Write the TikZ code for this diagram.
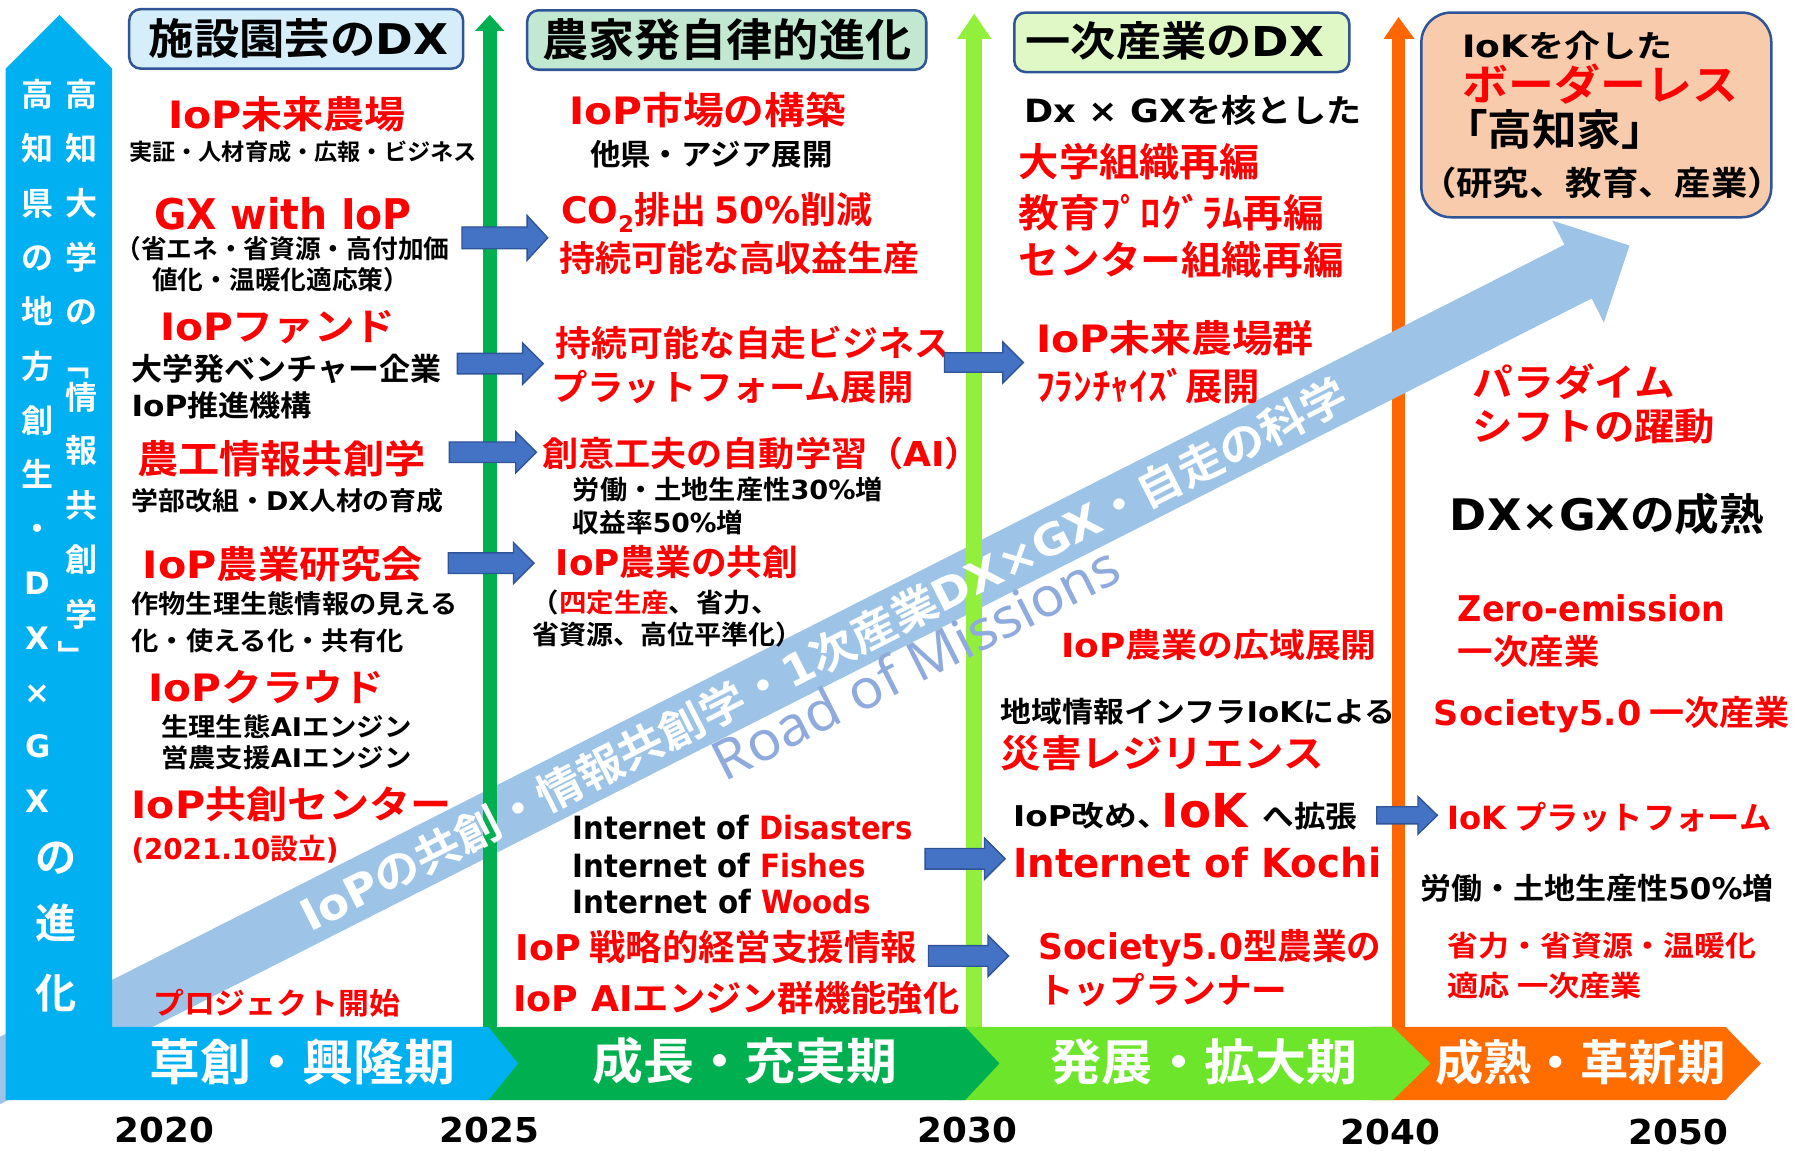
\documentclass[tikz,border=0pt]{standalone}
\usepackage{graphicx}
\usepackage{fontspec}
\setmainfont{Noto Sans CJK JP}[UprightFont={* Bold}]
\newfontfamily\latr{Noto Sans}
\newfontfamily\latb{DejaVu Sans}[UprightFont={* Bold}]
\definecolor{rd}{HTML}{FF0000}
\definecolor{pblue}{HTML}{00B0F0}
\definecolor{grn}{HTML}{00B050}
\definecolor{lgl}{HTML}{92F03C}
\definecolor{lgb}{HTML}{6CE52A}
\definecolor{orl}{HTML}{FF6600}
\definecolor{orb}{HTML}{FF6C00}
\definecolor{diag}{HTML}{9DC3E6}
\definecolor{rom}{HTML}{8FAADC}
\definecolor{barr}{HTML}{4472C4}
\definecolor{barrd}{HTML}{2F5597}
\definecolor{bxa}{HTML}{D6EDFA}
\definecolor{bxb}{HTML}{C3E8D2}
\definecolor{bxc}{HTML}{E0F8C6}
\definecolor{bxd}{HTML}{F8CBAD}
\definecolor{bxline}{HTML}{2F5597}
\newcommand\sw[3]{\resizebox{#1pt}{\height}{\fontsize{#2pt}{#2pt}\selectfont\rule[-0.12em]{0pt}{0.96em}#3}}
\newcommand\swp[3]{\resizebox{#1pt}{\height}{\fontsize{#2pt}{#2pt}\selectfont #3}}
\newcommand\nw[2]{\fontsize{#1pt}{#1pt}\selectfont\rule[-0.12em]{0pt}{0.96em}#2}
\newcommand\blkarr[6]{\filldraw[fill=barr, draw=barrd, line width=1.2pt, line join=miter] (#1,#3-#4) -- (#2-#6,#3-#4) -- (#2-#6,#3-#5) -- (#2,#3) -- (#2-#6,#3+#5) -- (#2-#6,#3+#4) -- (#1,#3+#4) -- cycle;}
\tikzset{
  tl/.style={anchor=west, inner sep=0pt, outer sep=0pt, text=black},
  tr/.style={tl, text=rd},
  tc/.style={anchor=center, inner sep=0pt, outer sep=0pt, text=black},
  wt/.style={tc, text=white},
  hbox/.style={draw=bxline, line width=2.2pt, rounded corners=10pt, inner sep=0pt, minimum height=52pt}
}
\begin{document}
\begin{tikzpicture}[x=1pt,y=-1pt]
\useasboundingbox (0,0) rectangle (1568,1006);
\fill[white] (0,0) rectangle (1568,1006);
% orange timeline arrow (under the road arrow)
\fill[orl] (1217,898) rectangle (1229,33);
\fill[orl] (1210,34) -- (1223,15) -- (1237,34) -- cycle;
% header boxes
\node[hbox, fill=bxa, minimum width=292pt] (h1) at (259,34) {};
\node[hbox, fill=bxb, minimum width=349pt] (h2) at (635.5,35) {};
\node[hbox, fill=bxc, minimum width=293pt] (h3) at (1033.5,37) {};
\node[draw=bxline, fill=bxd, line width=2.2pt, rounded corners=26pt, inner sep=0pt, minimum width=306pt, minimum height=179pt] (bb) at (1396,100.5) {};
\node[tc] (h1t) at (261,34) {\sw{262}{37}{施設園芸の{\latb DX}}};
\node[tc] (h2t) at (635.5,35) {\sw{323}{39}{農家発自律的進化}};
\node[tc] (h3t) at (1027.5,36) {\sw{261}{36}{一次産業の{\latb DX}}};
% diagonal road arrow
\fill[diag] (0,906.6) -- (1368.1,214.0) -- (1357.4,192.9) -- (1425,214.7) -- (1402.6,282.1) -- (1391.9,261.0) -- (0,965.6) -- cycle;
% green timeline arrows (over the road arrow)
\fill[grn] (422,898) rectangle (434.5,26);
\fill[grn] (415.5,27) -- (428.3,13) -- (441,27) -- cycle;
\fill[lgl] (845,898) rectangle (859,33);
\fill[lgl] (837,34) -- (852,12) -- (867,34) -- cycle;
\node[wt, rotate=26.84] (dtext) at (720,573) {\sw{1020}{38}{{\latb IoP}の共創・情報共創学・{\latb 1}次産業{\latb DX×GX}・自走の科学}};
\node[tc, text=rom, rotate=26.84] (road) at (801,580) {\sw{392}{48}{\latr Road of Missions}};
% bottom bands
\fill[orb] (1200,898) -- (1509,898) -- (1540,930) -- (1509,962) -- (1200,962) -- cycle;
\fill[lgb] (830,898) -- (1218,898) -- (1251,930) -- (1218,962) -- (830,962) -- cycle;
\fill[grn] (420,898) -- (844,898) -- (874,930) -- (844,962) -- (420,962) -- cycle;
\fill[pblue] (5,60) -- (52,13) -- (98,60) -- (98,898) -- (427,898) -- (453,930) -- (427,962) -- (5,962) -- cycle;
\node[wt] (b1) at (264.5,929) {\sw{267}{43}{草創・興隆期}};
\node[wt] (b2) at (651.5,928) {\sw{267}{43}{成長・充実期}};
\node[wt] (b3) at (1053,929) {\sw{268}{43}{発展・拡大期}};
\node[wt] (b4) at (1382,929) {\sw{254}{42}{成熟・革新期}};
% years
\node[tc] (y1) at (144,988) {\swp{87}{30}{\latb 2020}};
\node[tc] (y2) at (428,988) {\swp{87}{30}{\latb 2025}};
\node[tc] (y3) at (846,988) {\swp{87}{30}{\latb 2030}};
\node[tc] (y4) at (1216,990) {\swp{87}{30}{\latb 2040}};
\node[tc] (y5) at (1468,990) {\swp{87}{30}{\latb 2050}};
% left panel vertical text
\foreach \c/\yy [count=\i] in {高/83,知/130.5,県/178,の/225.5,地/273,方/320.5,創/368,生/415.5,・/463}
  \node[wt] (pl\i) at (33,\yy) {\nw{28}{\c}};
\node[wt] (plD) at (33,510.5) {\nw{27}{\latb D}};
\node[wt] (plXa) at (33,558) {\nw{27}{\latb X}};
\node[wt] (plx) at (33,605.5) {\nw{27}{\latb ×}};
\node[wt] (plG) at (33,653) {\nw{27}{\latb G}};
\node[wt] (plXb) at (33,700.5) {\nw{27}{\latb X}};
\node[wt] (pln) at (49,750) {\nw{36}{の}};
\node[wt] (pls) at (49,808) {\nw{36}{進}};
\node[wt] (plk) at (49,869) {\nw{36}{化}};
\foreach \c/\yy [count=\i] in {高/83,知/130.5,大/178,学/225.5,の/273,情/348,報/394,共/442,創/490,学/538}
  \node[wt] (pr\i) at (71,\yy) {\nw{28}{\c}};
\node[wt, rotate=-90] (prba) at (64,318) {\nw{28}{「}};
\node[wt, rotate=-90] (prbb) at (63.5,574) {\nw{28}{」}};
% column 1
\node[tr] (c1a) at (147,100) {\sw{208}{33}{{\latb IoP}未来農場}};
\node[tl] (c1b) at (113,133) {\sw{304}{20}{実証・人材育成・広報・ビジネス}};
\node[tr] (c1c) at (135,187) {\sw{225}{37}{\latb GX with IoP}};
\node[tl] (c1d) at (101,218) {\sw{292}{22.5}{（省エネ・省資源・高付加価}};
\node[tl] (c1e) at (133,245) {\nw{22.5}{値化・温暖化適応策）}};
\node[tr] (c1f) at (140,286) {\sw{206}{33}{{\latb IoP}ファンド}};
\node[tl] (c1g) at (115,323) {\sw{271}{27}{大学発ベンチャー企業}};
\node[tl] (c1h) at (115,355) {\sw{158}{25.5}{{\latb IoP}推進機構}};
\node[tr] (c1i) at (120,402) {\sw{252}{34}{農工情報共創学}};
\node[tl] (c1j) at (115,438) {\sw{273}{22.5}{学部改組・{\latb DX}人材の育成}};
\node[tr] (c1k) at (125,494) {\sw{245}{33}{{\latb IoP}農業研究会}};
\node[tl] (c1l) at (115,528) {\sw{285}{22.5}{作物生理生態情報の見える}};
\node[tl] (c1m) at (115,561) {\sw{238}{22.5}{化・使える化・共有化}};
\node[tr] (c1n) at (130,602) {\sw{206}{33}{{\latb IoP}クラウド}};
\node[tl] (c1o) at (141,636) {\sw{219}{22.5}{生理生態{\latb AI}エンジン}};
\node[tl] (c1p) at (141,663) {\sw{219}{22.5}{営農支援{\latb AI}エンジン}};
\node[tr] (c1q) at (115,704) {\sw{280}{33}{{\latb IoP}共創センター}};
\node[tr] (c1r) at (115,743) {\sw{181}{25}{{\latb (2021.10}設立{\latb )}}};
\node[tr] (c1s) at (134,878) {\sw{216}{26}{プロジェクト開始}};
% column 2
\node[tr] (c2a) at (498,97) {\sw{242}{33}{{\latb IoP}市場の構築}};
\node[tl] (c2b) at (516,135) {\sw{212}{26}{他県・アジア展開}};
\node[tr] (c2c) at (491,186) {\sw{272}{32}{{\latb CO\raisebox{-0.25em}{\fontsize{20pt}{20pt}\selectfont 2}}排出 {\latb 50\%}削減}};
\node[tr] (c2d) at (489,226) {\sw{315}{31}{持続可能な高収益生産}};
\node[tr] (c2e) at (486,300) {\sw{345}{31}{持続可能な自走ビジネス}};
\node[tr] (c2f) at (482,339) {\sw{317}{31}{プラットフォーム展開}};
\node[tr] (c2g) at (474,397) {\sw{384}{30}{創意工夫の自動学習（{\latb AI}）}};
\node[tl] (c2h) at (501,428) {\sw{271}{23}{労働・土地生産性{\latb 30\%}増}};
\node[tl] (c2i) at (501,457) {\sw{149}{23}{収益率{\latb 50\%}増}};
\node[tr] (c2j) at (486,492) {\sw{212}{31}{{\latb IoP}農業の共創}};
\node[tl] (c2k) at (465,527) {\sw{216}{23}{（\textcolor{rd}{四定生産}、省力、}};
\node[tl] (c2l) at (466,555) {\sw{236}{23}{省資源、高位平準化）}};
\node[tl] (c2m) at (501,724) {\sw{297}{28}{\latb Internet of \textcolor{rd}{Disasters}}};
\node[tl] (c2n) at (501,757) {\sw{256}{28}{\latb Internet of \textcolor{rd}{Fishes}}};
\node[tl] (c2o) at (501,789) {\sw{261}{28}{\latb Internet of \textcolor{rd}{Woods}}};
\node[tr] (c2p) at (451,829) {\sw{351}{31}{{\latb IoP} 戦略的経営支援情報}};
\node[tr] (c2q) at (449,873) {\sw{390}{31}{{\latb IoP AI}エンジン群機能強化}};
% column 3
\node[tl] (c3a) at (896,97) {\sw{295}{28}{{\latb Dx × GX}を核とした}};
\node[tr] (c3b) at (891,142) {\sw{211}{34}{大学組織再編}};
\node[tr] (c3c) at (891,186) {\sw{267}{34}{教育ﾌﾟﾛｸﾞﾗﾑ再編}};
\node[tr] (c3d) at (891,228) {\sw{284}{34}{センター組織再編}};
\node[tr] (c3e) at (906,296) {\sw{243}{33}{{\latb IoP}未来農場群}};
\node[tr] (c3f) at (906,338) {\sw{196}{33}{ﾌﾗﾝﾁｬｲｽﾞ展開}};
\node[tr] (c3g) at (928,564) {\sw{276}{29}{{\latb IoP}農業の広域展開}};
\node[tl] (c3h) at (875,623) {\sw{345}{25}{地域情報インフラ{\latb IoK}による}};
\node[tr] (c3i) at (875,659) {\sw{283}{33}{災害レジリエンス}};
\node[tl] (c3j) at (886,714) {\sw{137}{25}{{\latb IoP}改め、}};
\node[tr] (c3k) at (1016,709) {\sw{75}{41}{\latb IoK}};
\node[tl] (c3l) at (1104,714) {\sw{83}{26}{へ拡張}};
\node[tr] (c3m) at (886,755) {\sw{322}{35}{\latb Internet of Kochi}};
\node[tr] (c3n) at (908,829) {\sw{300}{31}{{\latb Society5.0}型農業の}};
\node[tr] (c3o) at (908,866) {\sw{218}{31}{トップランナー}};
% column 4
\node[tl] (c4a) at (1279,40) {\sw{184}{27}{{\latb IoK}を介した}};
\node[tr] (c4b) at (1279,74) {\sw{241}{37}{ボーダーレス}};
\node[tl] (c4c) at (1262,114) {\sw{195}{37}{「高知家」}};
\node[tc] (c4d) at (1401,160) {\sw{318}{29}{（研究、教育、産業）}};
\node[tr] (c4e) at (1288,334) {\sw{177}{33}{パラダイム}};
\node[tr] (c4f) at (1288,373) {\sw{212}{33}{シフトの躍動}};
\node[tl] (c4g) at (1268,450) {\sw{275}{38}{{\latb DX×GX}の成熟}};
\node[tr] (c4h) at (1275,532) {\sw{234}{31}{\latb Zero-emission}};
\node[tr] (c4i) at (1275,570) {\sw{124}{30}{一次産業}};
\node[tr] (c4j) at (1254,625) {\sw{311}{30}{{\latb Society5.0} 一次産業}};
\node[tr] (c4k) at (1266,715) {\sw{283}{28}{{\latb IoK} プラットフォーム}};
\node[tl] (c4l) at (1242,777) {\sw{309}{26}{労働・土地生産性{\latb 50\%}増}};
\node[tr] (c4m) at (1266,827) {\sw{270}{25}{省力・省資源・温暖化}};
\node[tr] (c4n) at (1266,862) {\sw{170}{25}{適応 一次産業}};
% block arrows
\blkarr{404}{479}{208}{9.5}{19.5}{18}
\blkarr{400}{475}{318}{9}{18}{18}
\blkarr{393}{469}{395.5}{9}{18}{18}
\blkarr{392}{467}{492.5}{9}{18}{18}
\blkarr{826}{895}{317}{8.5}{18}{18}
\blkarr{809}{879}{751}{9}{18}{18}
\blkarr{812}{882}{836}{9}{18}{18}
\blkarr{1204}{1257}{713}{7.5}{16.5}{17}
\end{tikzpicture}
\end{document}
